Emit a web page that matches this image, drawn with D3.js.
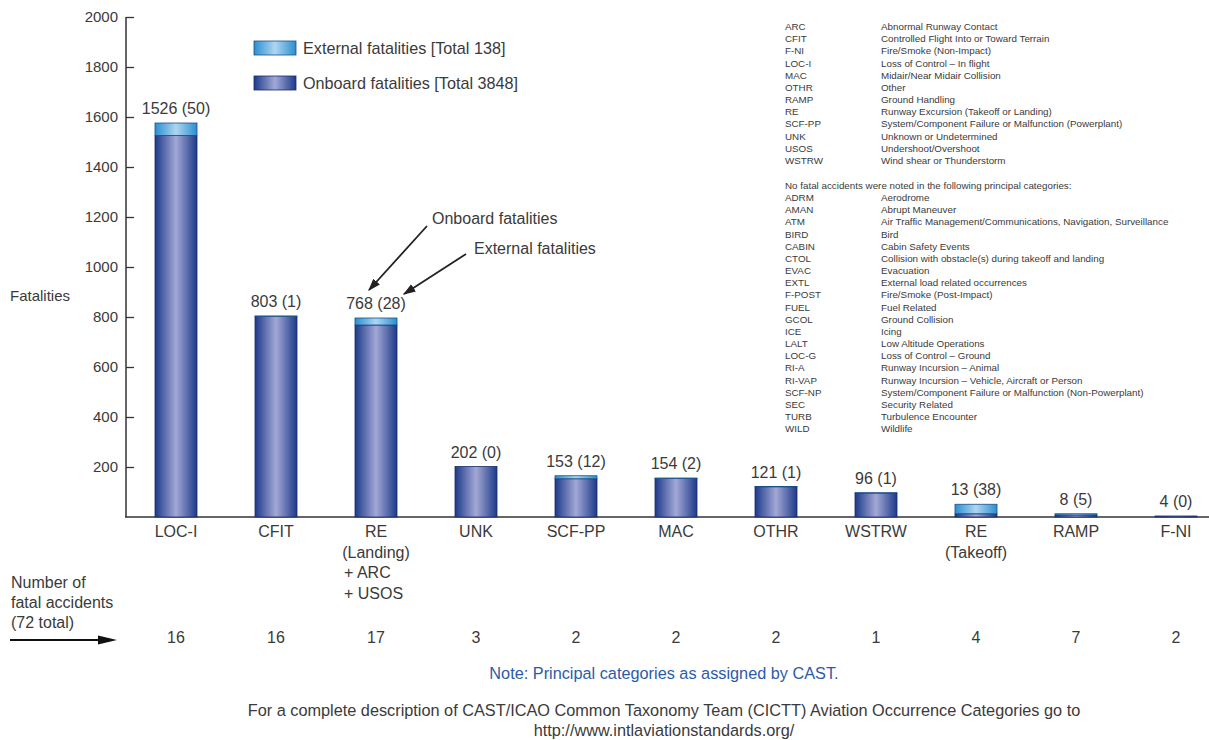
<!DOCTYPE html>
<html>
<head>
<meta charset="utf-8">
<script src="https://cdnjs.cloudflare.com/ajax/libs/d3/7.8.5/d3.min.js"></script>
<style>
  body { margin: 0; background: #fff; }
  svg text { font-family: "Liberation Sans", Arial, Helvetica, sans-serif; fill: #3a3a3a; }
</style>
</head>
<body>
<div id="chart"></div>
<script>
// Data
const categories = ["LOC-I", "CFIT", "RE-L", "UNK", "SCF-PP", "MAC", "OTHR", "WSTRW", "RE-T", "RAMP", "F-NI"];
const catLabels = [["LOC-I"], ["CFIT"], ["RE", "(Landing)", "+ ARC", "+ USOS"], ["UNK"], ["SCF-PP"], ["MAC"], ["OTHR"], ["WSTRW"], ["RE", "(Takeoff)"], ["RAMP"], ["F-NI"]];
const onboard = [1526, 803, 768, 202, 153, 154, 121, 96, 13, 8, 4];
const external = [50, 1, 28, 0, 12, 2, 1, 1, 38, 5, 0];
const accidents = [16, 16, 17, 3, 2, 2, 2, 1, 4, 7, 2];
const yTicks = [200, 400, 600, 800, 1000, 1200, 1400, 1600, 1800, 2000];

const codes = ["ARC", "CFIT", "F-NI", "LOC-I", "MAC", "OTHR", "RAMP", "RE", "SCF-PP", "UNK", "USOS", "WSTRW"];
const codeNames = ["Abnormal Runway Contact", "Controlled Flight Into or Toward Terrain", "Fire/Smoke (Non-Impact)",
  "Loss of Control \u2013 In flight", "Midair/Near Midair Collision", "Other", "Ground Handling",
  "Runway Excursion (Takeoff or Landing)", "System/Component Failure or Malfunction (Powerplant)",
  "Unknown or Undetermined", "Undershoot/Overshoot", "Wind shear or Thunderstorm"];
const noneCodes = ["ADRM", "AMAN", "ATM", "BIRD", "CABIN", "CTOL", "EVAC", "EXTL", "F-POST", "FUEL", "GCOL",
  "ICE", "LALT", "LOC-G", "RI-A", "RI-VAP", "SCF-NP", "SEC", "TURB", "WILD"];
const noneNames = ["Aerodrome", "Abrupt Maneuver", "Air Traffic Management/Communications, Navigation, Surveillance",
  "Bird", "Cabin Safety Events", "Collision with obstacle(s) during takeoff and landing", "Evacuation",
  "External load related occurrences", "Fire/Smoke (Post-Impact)", "Fuel Related", "Ground Collision", "Icing",
  "Low Altitude Operations", "Loss of Control \u2013 Ground", "Runway Incursion \u2013 Animal",
  "Runway Incursion \u2013 Vehicle, Aircraft or Person", "System/Component Failure or Malfunction (Non-Powerplant)",
  "Security Related", "Turbulence Encounter", "Wildlife"];

const W = 1209, H = 740;
const svg = d3.select("#chart").append("svg")
  .attr("width", W)
  .attr("height", H);

// gradients
const defs = svg.append("defs");
function grad(id, edge, mid) {
  const g = defs.append("linearGradient").attr("id", id)
    .attr("x1", "0%").attr("x2", "100%").attr("y1", "0%").attr("y2", "0%");
  g.append("stop").attr("offset", "0%").attr("stop-color", edge);
  g.append("stop").attr("offset", "50%").attr("stop-color", mid);
  g.append("stop").attr("offset", "100%").attr("stop-color", edge);
}
grad("gOn", "#1d3a8a", "#a3a8d6");
grad("gEx", "#2a8fd0", "#aed6f1");
const arrow = defs.append("marker").attr("id", "arr")
  .attr("viewBox", "0 0 10 10").attr("refX", 9).attr("refY", 5)
  .attr("markerWidth", 7).attr("markerHeight", 7).attr("orient", "auto");
arrow.append("path").attr("d", "M0,1.5 L10,5 L0,8.5 z").attr("fill", "#222");

const x = d3.scaleBand().domain(categories).range([126, 1226]).paddingInner(0.58).paddingOuter(0.29);
const y = d3.scaleLinear().domain([0, 2000]).range([517, 17]);

// axis
svg.append("g")
  .attr("transform", "translate(126,0)")
  .call(d3.axisRight(y).tickValues(yTicks).tickSize(8).tickFormat(""))
  .call(g => g.select(".domain").remove())
  .call(g => g.selectAll("line").attr("stroke", "#333").attr("stroke-width", 1.3));
svg.append("line").attr("x1", 126).attr("x2", 126).attr("y1", y(2000)).attr("y2", y(0))
  .attr("stroke", "#333").attr("stroke-width", 1.5);
svg.append("line").attr("x1", 125).attr("x2", W).attr("y1", y(0)).attr("y2", y(0))
  .attr("stroke", "#333").attr("stroke-width", 1.5);

svg.selectAll(".ylab").data(yTicks).enter().append("text")
  .attr("x", 118).attr("y", d => y(d) + 5)
  .attr("text-anchor", "end").attr("font-size", 15).text(d => d);
svg.append("text").attr("x", 10).attr("y", 301).attr("font-size", 15).text("Fatalities");

// bars
const bars = svg.selectAll(".bar").data(categories).enter().append("g");
bars.append("rect")
  .attr("x", d => x(d)).attr("width", x.bandwidth())
  .attr("y", (d, i) => y(onboard[i])).attr("height", (d, i) => y(0) - y(onboard[i]))
  .attr("fill", "url(#gOn)").attr("stroke", "#1a2c66").attr("stroke-width", 0.8);
bars.filter((d, i) => external[i] > 0).append("rect")
  .attr("x", d => x(d)).attr("width", x.bandwidth())
  .attr("y", d => { const i = categories.indexOf(d); return y(onboard[i] + external[i]); })
  .attr("height", d => { const i = categories.indexOf(d); return y(onboard[i]) - y(onboard[i] + external[i]); })
  .attr("fill", "url(#gEx)").attr("stroke", "#1a4f88").attr("stroke-width", 0.8);

bars.append("text")
  .attr("x", d => x(d) + x.bandwidth() / 2)
  .attr("y", (d, i) => y(onboard[i] + external[i]) - 9)
  .attr("text-anchor", "middle").attr("font-size", 16)
  .text((d, i) => onboard[i] + " (" + external[i] + ")");

// category labels
bars.each(function (d, i) {
  const cx = x(d) + x.bandwidth() / 2;
  const g = d3.select(this);
  catLabels[i].forEach((line, j) => {
    const plus = line.startsWith("+");
    g.append("text")
      .attr("x", plus ? cx - 32 : cx)
      .attr("y", 537 + j * 20.5)
      .attr("text-anchor", plus ? "start" : "middle")
      .attr("font-size", 16).text(line);
  });
  g.append("text").attr("x", cx).attr("y", 643)
    .attr("text-anchor", "middle").attr("font-size", 16).text(accidents[i]);
});

// accidents label + arrow
["Number of", "fatal accidents", "(72 total)"].forEach((t, j) => {
  svg.append("text").attr("x", 11).attr("y", 588 + j * 20).attr("font-size", 16).text(t);
});
svg.append("line").attr("x1", 10).attr("x2", 100).attr("y1", 640).attr("y2", 640)
  .attr("stroke", "#111").attr("stroke-width", 2.2);
svg.append("path").attr("d", "M98,635.5 L117,640 L98,644.5 z").attr("fill", "#111");

// legend
const legend = [["gEx", "External fatalities [Total 138]", "#1a4f88"], ["gOn", "Onboard fatalities [Total 3848]", "#1a2c66"]];
legend.forEach((l, j) => {
  svg.append("rect").attr("x", 254).attr("y", 41 + j * 35).attr("width", 42).attr("height", 14)
    .attr("fill", "url(#" + l[0] + ")").attr("stroke", l[2]).attr("stroke-width", 0.8);
  svg.append("text").attr("x", 303).attr("y", 54 + j * 35).attr("font-size", 16.2).text(l[1]);
});

// annotations
svg.append("text").attr("x", 432).attr("y", 224).attr("font-size", 16).text("Onboard fatalities");
svg.append("text").attr("x", 474).attr("y", 254).attr("font-size", 16).text("External fatalities");
svg.append("line").attr("x1", 427).attr("y1", 226).attr("x2", 369).attr("y2", 290)
  .attr("stroke", "#222").attr("stroke-width", 1.8).attr("marker-end", "url(#arr)");
svg.append("line").attr("x1", 466).attr("y1", 254).attr("x2", 404).attr("y2", 294)
  .attr("stroke", "#222").attr("stroke-width", 1.8).attr("marker-end", "url(#arr)");

// code list
const step = 12.17;
codes.forEach((c, i) => {
  svg.append("text").attr("x", 785).attr("y", 30 + i * step).attr("font-size", 9.8).text(c);
  svg.append("text").attr("x", 881).attr("y", 30 + i * step).attr("font-size", 9.8).text(codeNames[i]);
});
svg.append("text").attr("x", 785).attr("y", 189).attr("font-size", 9.8)
  .text("No fatal accidents were noted in the following principal categories:");
noneCodes.forEach((c, i) => {
  svg.append("text").attr("x", 785).attr("y", 201 + i * step).attr("font-size", 9.8).text(c);
  svg.append("text").attr("x", 881).attr("y", 201 + i * step).attr("font-size", 9.8).text(noneNames[i]);
});

// notes
svg.append("text").attr("x", 664).attr("y", 679).attr("text-anchor", "middle")
  .attr("font-size", 16.3).style("fill", "#2d5aa8").text("Note: Principal categories as assigned by CAST.");
svg.append("text").attr("x", 664).attr("y", 716).attr("text-anchor", "middle").attr("font-size", 16.3)
  .text("For a complete description of CAST/ICAO Common Taxonomy Team (CICTT) Aviation Occurrence Categories go to");
svg.append("text").attr("x", 664).attr("y", 736).attr("text-anchor", "middle").attr("font-size", 16.3)
  .text("http://www.intlaviationstandards.org/");
</script>
</body>
</html>
